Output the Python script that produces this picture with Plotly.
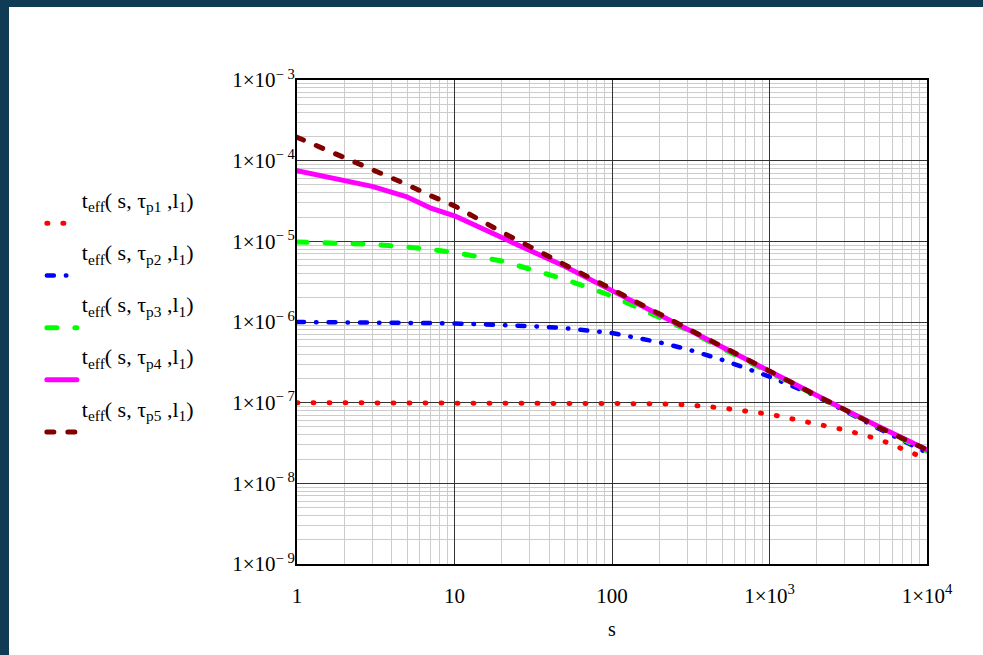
import plotly.graph_objects as go

# ---- data ----
s = [1, 2, 3, 5, 7, 10, 20, 30, 50, 100, 200, 300, 500, 1000, 2000, 3000, 5000, 10000]

t_p1 = [1.0e-7, 1.0e-7, 1.0e-7, 1.0e-7, 1.0e-7, 1.0e-7, 1.0e-7, 1.0e-7, 1.0e-7, 9.9e-8,
        9.7e-8, 9.4e-8, 8.6e-8, 7.2e-8, 5.5e-8, 4.6e-8, 3.5e-8, 2.0e-8]
t_p2 = [1.0e-6, 1.0e-6, 9.9e-7, 9.8e-7, 9.7e-7, 9.6e-7, 9.2e-7, 8.9e-7, 8.4e-7, 7.3e-7,
        5.6e-7, 4.6e-7, 3.4e-7, 2.1e-7, 1.2e-7, 7.8e-8, 4.7e-8, 2.4e-8]
t_p3 = [9.8e-6, 9.5e-6, 9.2e-6, 8.5e-6, 7.9e-6, 7.3e-6, 5.7e-6, 4.6e-6, 3.4e-6, 2.1e-6,
        1.15e-6, 8.0e-7, 4.7e-7, 2.4e-7, 1.2e-7, 8.1e-8, 4.9e-8, 2.5e-8]
t_p4 = [7.5e-5, 5.65e-5, 4.8e-5, 3.55e-5, 2.6e-5, 2.07e-5, 1.11e-5, 7.9e-6, 4.9e-6, 2.45e-6,
        1.22e-6, 8.2e-7, 4.9e-7, 2.45e-7, 1.22e-7, 8.2e-8, 5.0e-8, 2.6e-8]
t_p5 = [1.95e-4, 1.1e-4, 7.8e-5, 5.05e-5, 3.7e-5, 2.75e-5, 1.3e-5, 8.6e-6, 5.1e-6, 2.5e-6,
        1.23e-6, 8.2e-7, 4.9e-7, 2.45e-7, 1.22e-7, 8.2e-8, 4.9e-8, 2.6e-8]

series_names = [
    "t<sub>eff</sub>( s, τ<sub>p1</sub> ,l<sub>1</sub>)",
    "t<sub>eff</sub>( s, τ<sub>p2</sub> ,l<sub>1</sub>)",
    "t<sub>eff</sub>( s, τ<sub>p3</sub> ,l<sub>1</sub>)",
    "t<sub>eff</sub>( s, τ<sub>p4</sub> ,l<sub>1</sub>)",
    "t<sub>eff</sub>( s, τ<sub>p5</sub> ,l<sub>1</sub>)",
]

x_tick_vals = [1, 10, 100, 1000, 10000]
x_tick_text = ["1", "10", "100", "1×10<sup>3</sup>", "1×10<sup>4</sup>"]
y_tick_vals = [1e-9, 1e-8, 1e-7, 1e-6, 1e-5, 1e-4, 1e-3]
y_tick_text = ["1×10<sup>− 9</sup>", "1×10<sup>− 8</sup>", "1×10<sup>− 7</sup>",
               "1×10<sup>− 6</sup>", "1×10<sup>− 5</sup>", "1×10<sup>− 4</sup>",
               "1×10<sup>− 3</sup>"]

# ---- styles ----
styles = [
    dict(color="#ff0000", width=5, dash="1px,15px"),
    dict(color="#0000ff", width=4.5, dash="7px,12px,0.5px,12px"),
    dict(color="#00ff00", width=5, dash="10px,18px"),
    dict(color="#ff00ff", width=5, dash="solid"),
    dict(color="#800000", width=5, dash="7px,14px"),
]

FONT = "Liberation Serif, Times New Roman, serif"
LABEL_PX = 22
W, H = 983, 655
ML, MR, MT, MB = 297, 56, 80, 91
PW, PH = W - ML - MR, H - MT - MB
FRAME = "#0f3c54"

fig = go.Figure()
for i, (ys, name, st) in enumerate(zip([t_p1, t_p2, t_p3, t_p4, t_p5], series_names, styles)):
    fig.add_trace(go.Scatter(
        x=s, y=ys, mode="lines",
        name='<span style="font-size:%dpx">%s</span><br>\u00a0' % (LABEL_PX, name),
        legendgroup="g%d" % i,
        line=st,
    ))

# dark window frame (left and top strips of the page)
frame_shapes = [
    dict(type="rect", xref="paper", yref="paper", layer="above",
         x0=-ML / PW, x1=-(ML - 9) / PW, y0=-MB / PH, y1=1 + MT / PH,
         fillcolor=FRAME, line=dict(width=0)),
    dict(type="rect", xref="paper", yref="paper", layer="above",
         x0=-ML / PW, x1=1 + MR / PW, y0=1 + (MT - 7) / PH, y1=1 + MT / PH,
         fillcolor=FRAME, line=dict(width=0)),
]

fig.update_layout(
    width=W, height=H,
    margin=dict(l=ML, r=MR, t=MT, b=MB),
    paper_bgcolor="white", plot_bgcolor="white",
    font=dict(family=FONT, size=21, color="black"),
    showlegend=True,
    hovermode=False,
    shapes=frame_shapes,
    legend=dict(
        x=-0.405, y=0.786, xanchor="left", yanchor="top",
        valign="bottom", itemwidth=30,
        font=dict(family=FONT, size=17, color="black"),
        bgcolor="rgba(0,0,0,0)", borderwidth=0,
        traceorder="grouped", tracegroupgap=5,
    ),
    xaxis=dict(
        type="log", range=[0, 4],
        tickmode="array", tickvals=x_tick_vals, ticktext=x_tick_text,
        showgrid=True, gridcolor="#333333", gridwidth=1,
        minor=dict(dtick="D1", showgrid=True, gridcolor="#cccccc", gridwidth=1, ticks=""),
        showline=True, linecolor="black", linewidth=2, mirror=True,
        ticks="", ticklabelstandoff=12, zeroline=False,
        title=dict(text="s", standoff=15, font=dict(family=FONT, size=20)),
    ),
    yaxis=dict(
        type="log", range=[-9, -3],
        tickmode="array", tickvals=y_tick_vals, ticktext=y_tick_text,
        showgrid=True, gridcolor="#333333", gridwidth=1,
        minor=dict(dtick="D1", showgrid=True, gridcolor="#cccccc", gridwidth=1, ticks=""),
        showline=True, linecolor="black", linewidth=2, mirror=True,
        ticks="", ticklabelstandoff=-4, zeroline=False,
    ),
)

post = """
var gd = document.getElementById('{plot_id}');
document.documentElement.style.overflow = 'hidden';
document.documentElement.style.background = 'white';
document.body.style.margin = '0';
document.body.style.overflow = 'hidden';
document.body.style.background = 'white';
function rc(){ gd.querySelectorAll('path.js-line').forEach(function(p){ p.style.strokeLinecap = 'round'; p.style.strokeLinejoin = 'round'; }); }
rc();
if (gd.on) { gd.on('plotly_afterplot', rc); }
setTimeout(rc, 50); setTimeout(rc, 300);
"""

fig.write_html("out.html", post_script=post, config={"displayModeBar": False})
